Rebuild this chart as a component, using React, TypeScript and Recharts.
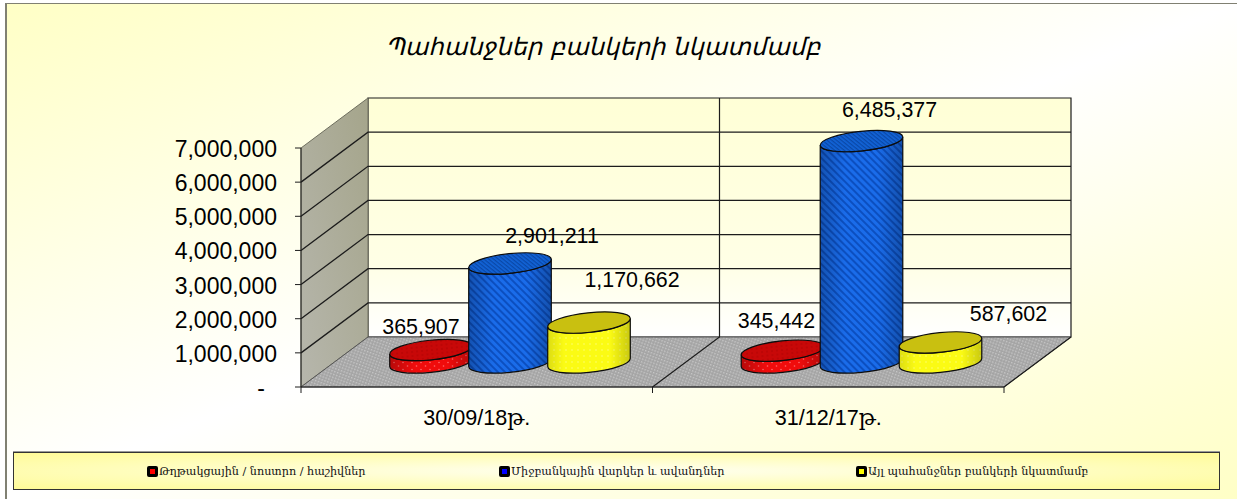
import React from "react";
import { BarChart, Bar, XAxis, YAxis, Legend, LabelList } from "recharts";

const categories = ["30/09/18թ.", "31/12/17թ."];
const seriesNames = [
  "Թղթակցային / նոստրո / հաշիվներ",
  "Միջբանկային վարկեր և ավանդներ",
  "Այլ պահանջներ բանկերի նկատմամբ",
];
const correspondent = [365907, 345442];
const interbank = [2901211, 6485377];
const otherClaims = [1170662, 587602];
const yTicks = [0, 1000000, 2000000, 3000000, 4000000, 5000000, 6000000, 7000000];
const titleText = "Պահանջներ բանկերի նկատմամբ";

const data = categories.map((name, i) => ({
  name,
  correspondent: correspondent[i],
  interbank: interbank[i],
  otherClaims: otherClaims[i],
}));

// front plane of the fake 3d box
const LEFT = 301;
const RIGHT = 1004;
const TOP = 148;
const BOTTOM = 387;
const DX = 67;
const DY = -50;
const MAX = 7000000;
const valueY = (v: number) => BOTTOM - ((BOTTOM - TOP) * v) / MAX;

const LINE = "#1c1c1c";
const SANS = "'Liberation Sans', 'DejaVu Serif', sans-serif";

const fmt = (v: number) => v.toLocaleString("en-US");

// label position relative to top centre of each cylinder
const labelShift = [
  [[-10, -23], [-6, -29]],
  [[42, -27], [28, -31]],
  [[43, -42], [68, -28]],
];

const legendColors = ["#ff0000", "#0000ff", "#ffff00"];
const legendLeft = [133, 485, 842];

const looks = [
  { body: "url(#redBody)", top: "url(#redTop)", shade: "url(#roundShade)" },
  { body: "url(#blueBody)", top: "url(#blueTop)", shade: "url(#roundShade)" },
  { body: "url(#yellowBody)", top: "#c9c010", shade: "url(#softShade)" },
];

function Defs() {
  return (
    <defs>
      <linearGradient id="backWall" x1="0" y1="0" x2="0" y2="1">
        <stop offset="0" stopColor="#ffffd6" />
        <stop offset="0.7" stopColor="#ffffe6" />
        <stop offset="1" stopColor="#ffffff" />
      </linearGradient>
      <linearGradient id="sideWall" x1="1" y1="0" x2="0" y2="1">
        <stop offset="0" stopColor="#a5a58b" />
        <stop offset="1" stopColor="#b6b6ac" />
      </linearGradient>
      <pattern id="floor" width="3" height="3" patternUnits="userSpaceOnUse" patternTransform="rotate(20)">
        <rect width="3" height="3" fill="#a4a4a4" />
        <rect width="1.5" height="1.5" fill="#c6c6c6" />
      </pattern>
      <pattern id="redBody" width="9" height="7" patternUnits="userSpaceOnUse">
        <rect width="9" height="7" fill="#f00c0c" />
        <circle cx="2.5" cy="2" r="0.8" fill="#ff6a6a" />
        <circle cx="7" cy="5.5" r="0.8" fill="#ff6a6a" />
      </pattern>
      <pattern id="redTop" width="5" height="4" patternUnits="userSpaceOnUse">
        <rect width="5" height="4" fill="#c80808" />
        <circle cx="2" cy="2" r="0.7" fill="#a80000" />
      </pattern>
      <pattern id="blueBody" width="5" height="5" patternUnits="userSpaceOnUse" patternTransform="rotate(45)">
        <rect width="5" height="5" fill="#1a6cea" />
        <rect width="5" height="2" fill="#0c4fc0" />
      </pattern>
      <pattern id="blueTop" width="3" height="3" patternUnits="userSpaceOnUse" patternTransform="rotate(45)">
        <rect width="3" height="3" fill="#1264d8" />
        <rect width="3" height="1.3" fill="#0a48a8" />
      </pattern>
      <pattern id="yellowBody" width="6" height="6" patternUnits="userSpaceOnUse">
        <rect width="6" height="6" fill="#fbfb14" />
        <circle cx="2" cy="2" r="0.8" fill="#ffff70" />
      </pattern>
      <linearGradient id="roundShade" x1="0" y1="0" x2="1" y2="0">
        <stop offset="0" stopColor="#000" stopOpacity="0.24" />
        <stop offset="0.3" stopColor="#000" stopOpacity="0" />
        <stop offset="0.7" stopColor="#000" stopOpacity="0" />
        <stop offset="1" stopColor="#000" stopOpacity="0.26" />
      </linearGradient>
      <linearGradient id="softShade" x1="0" y1="0" x2="1" y2="0">
        <stop offset="0" stopColor="#000" stopOpacity="0.12" />
        <stop offset="0.2" stopColor="#000" stopOpacity="0" />
        <stop offset="0.75" stopColor="#000" stopOpacity="0" />
        <stop offset="1" stopColor="#000" stopOpacity="0.2" />
      </linearGradient>
    </defs>
  );
}

function Walls() {
  const midFront = (LEFT + RIGHT) / 2;
  return (
    <g>
      <polygon
        points={`${LEFT + DX},${TOP + DY} ${RIGHT + DX},${TOP + DY} ${RIGHT + DX},${BOTTOM + DY} ${LEFT + DX},${BOTTOM + DY}`}
        fill="url(#backWall)"
        stroke={LINE}
        strokeWidth={1.2}
      />
      <polygon
        points={`${LEFT},${TOP} ${LEFT + DX},${TOP + DY} ${LEFT + DX},${BOTTOM + DY} ${LEFT},${BOTTOM}`}
        fill="url(#sideWall)"
        stroke="#6e6e5e"
        strokeWidth={1}
      />
      <polygon
        points={`${LEFT},${BOTTOM} ${LEFT + DX},${BOTTOM + DY} ${RIGHT + DX},${BOTTOM + DY} ${RIGHT},${BOTTOM}`}
        fill="url(#floor)"
        stroke="#555"
        strokeWidth={1}
      />
      {yTicks.slice(1, -1).map((t) => (
        <path
          key={t}
          d={`M${LEFT},${valueY(t)} L${LEFT + DX},${valueY(t) + DY} L${RIGHT + DX},${valueY(t) + DY}`}
          fill="none"
          stroke={LINE}
          strokeWidth={1.3}
        />
      ))}
      <path
        d={`M${midFront},${BOTTOM} L${midFront + DX},${BOTTOM + DY} L${midFront + DX},${TOP + DY}`}
        fill="none"
        stroke={LINE}
        strokeWidth={1.2}
      />
      <path d={`M${RIGHT},${BOTTOM} L${RIGHT + DX},${BOTTOM + DY}`} stroke={LINE} strokeWidth={1.2} />
      <text
        transform="translate(605 47) skewX(-14)"
        textAnchor="middle"
        dominantBaseline="central"
        fontFamily="'DejaVu Sans', sans-serif"
        fontSize={24.2}
        fill="#000"
      >
        {titleText}
      </text>
    </g>
  );
}

// cylinder standing on the middle of the floor, tilted ellipses like the 3d excel one
function Cylinder(props: any) {
  const { x, y, width, height, seriesIndex } = props;
  const rx = width / 2;
  const ry = 9.8;
  const tilt = (-6 * Math.PI) / 180;
  const cx = x + rx + DX / 2;
  const topY = y + DY / 2 + 0.5;
  const baseY = y + height + DY / 2 + 0.5;
  const t = Math.atan((-ry / rx) * Math.tan(tilt));
  const ex = rx * Math.cos(t) * Math.cos(tilt) - ry * Math.sin(t) * Math.sin(tilt);
  const ey = rx * Math.cos(t) * Math.sin(tilt) + ry * Math.sin(t) * Math.cos(tilt);
  const side = `M${cx - ex},${topY - ey} L${cx - ex},${baseY - ey} A${rx},${ry} -6 0 0 ${cx + ex},${baseY + ey} L${cx + ex},${topY + ey} A${rx},${ry} -6 0 1 ${cx - ex},${topY - ey} Z`;
  const look = looks[seriesIndex];
  return (
    <g>
      <path d={side} fill={look.body} stroke="none" />
      <path d={side} fill={look.shade} stroke="#0c0c0c" strokeWidth={1.2} />
      <ellipse
        cx={cx}
        cy={topY}
        rx={rx}
        ry={ry}
        transform={`rotate(-6 ${cx} ${topY})`}
        fill={look.top}
        stroke="#0c0c0c"
        strokeWidth={1.2}
      />
    </g>
  );
}

function ValueLabel(props: any) {
  const { x, y, width, value, index, seriesIndex } = props;
  const [dx, dy] = labelShift[seriesIndex][index];
  return (
    <text
      x={x + width / 2 + DX / 2 + dx}
      y={y + DY / 2 + dy}
      textAnchor="middle"
      dominantBaseline="central"
      fontFamily={SANS}
      fontSize={21.4}
      fill="#000"
    >
      {fmt(value)}
    </text>
  );
}

function CategoryTick(props: any) {
  const { x, payload } = props;
  const half = (RIGHT - LEFT) / 4;
  return (
    <g>
      <line x1={x - half} y1={BOTTOM} x2={x - half} y2={BOTTOM + 6} stroke={LINE} />
      <line x1={x + half} y1={BOTTOM} x2={x + half} y2={BOTTOM + 6} stroke={LINE} />
      <text x={x} y={BOTTOM + 38} textAnchor="middle" fontFamily={SANS} fontSize={21.6} fill="#000">
        {payload.value}
      </text>
    </g>
  );
}

function ValueTick(props: any) {
  const { x, y, payload } = props;
  const isZero = payload.value === 0;
  return (
    <text
      x={isZero ? x - 12 : x}
      y={y + 1}
      textAnchor="end"
      dominantBaseline="central"
      fontFamily={SANS}
      fontSize={23}
      fill="#000"
    >
      {isZero ? "-" : fmt(payload.value)}
    </text>
  );
}

function LegendBox() {
  return (
    <div
      style={{
        position: "relative",
        width: 1207,
        height: 38,
        boxSizing: "border-box",
        border: "1px solid #333",
        background: "radial-gradient(ellipse at center, #fffff2 0%, #fffdb8 62%, #fffb96 100%)",
        boxShadow: "0 -1px 0 #999",
      }}
    >
      {seriesNames.map((name, i) => (
        <div
          key={name}
          style={{
            position: "absolute",
            left: legendLeft[i],
            top: 0,
            height: 36,
            display: "flex",
            alignItems: "center",
            whiteSpace: "nowrap",
            fontFamily: "'DejaVu Serif', serif",
            fontSize: 11.2,
            color: "#111",
          }}
        >
          <span
            style={{
              display: "inline-block",
              width: 5,
              height: 5,
              border: "3px solid #000",
              borderRadius: 2,
              background: legendColors[i],
              marginRight: 1,
            }}
          />
          {name}
        </div>
      ))}
    </div>
  );
}

export default function App() {
  return (
    <div
      style={{
        position: "absolute",
        left: 0,
        top: 0,
        width: 1237,
        height: 499,
        overflow: "hidden",
        background: "#fff",
      }}
    >
      <div
        style={{
          position: "absolute",
          left: 5,
          top: 3,
          width: 1232,
          height: 496,
          boxSizing: "border-box",
          borderLeft: "2px solid #808072",
          borderTop: "1px solid #808072",
          background: "linear-gradient(to bottom right, #ffffc6 0%, #ffffff 50%, #ffffc6 100%)",
        }}
      />
      <div style={{ position: "absolute", left: 0, top: 0 }}>
        <BarChart
          width={1237}
          height={499}
          data={data}
          barSize={83}
          barGap={-4}
          margin={{ top: TOP, left: 171, right: 1237 - RIGHT, bottom: 34 }}
        >
          <Defs />
          <Walls />
          <XAxis
            dataKey="name"
            height={40}
            stroke={LINE}
            tickLine={false}
            tick={<CategoryTick />}
            interval={0}
          />
          <YAxis
            width={130}
            domain={[0, MAX]}
            ticks={yTicks}
            stroke={LINE}
            tickSize={6}
            tickMargin={18}
            tick={<ValueTick />}
          />
          <Legend
            verticalAlign="bottom"
            content={<LegendBox />}
            wrapperStyle={{ left: 13, bottom: 9, width: 1207, height: 38 }}
          />
          <Bar dataKey="correspondent" name={seriesNames[0]} fill="#ff0000" isAnimationActive={false} shape={<Cylinder seriesIndex={0} />}>
            <LabelList content={<ValueLabel seriesIndex={0} />} />
          </Bar>
          <Bar dataKey="interbank" name={seriesNames[1]} fill="#0000ff" isAnimationActive={false} shape={<Cylinder seriesIndex={1} />}>
            <LabelList content={<ValueLabel seriesIndex={1} />} />
          </Bar>
          <Bar dataKey="otherClaims" name={seriesNames[2]} fill="#ffff00" isAnimationActive={false} shape={<Cylinder seriesIndex={2} />}>
            <LabelList content={<ValueLabel seriesIndex={2} />} />
          </Bar>
        </BarChart>
      </div>
    </div>
  );
}
